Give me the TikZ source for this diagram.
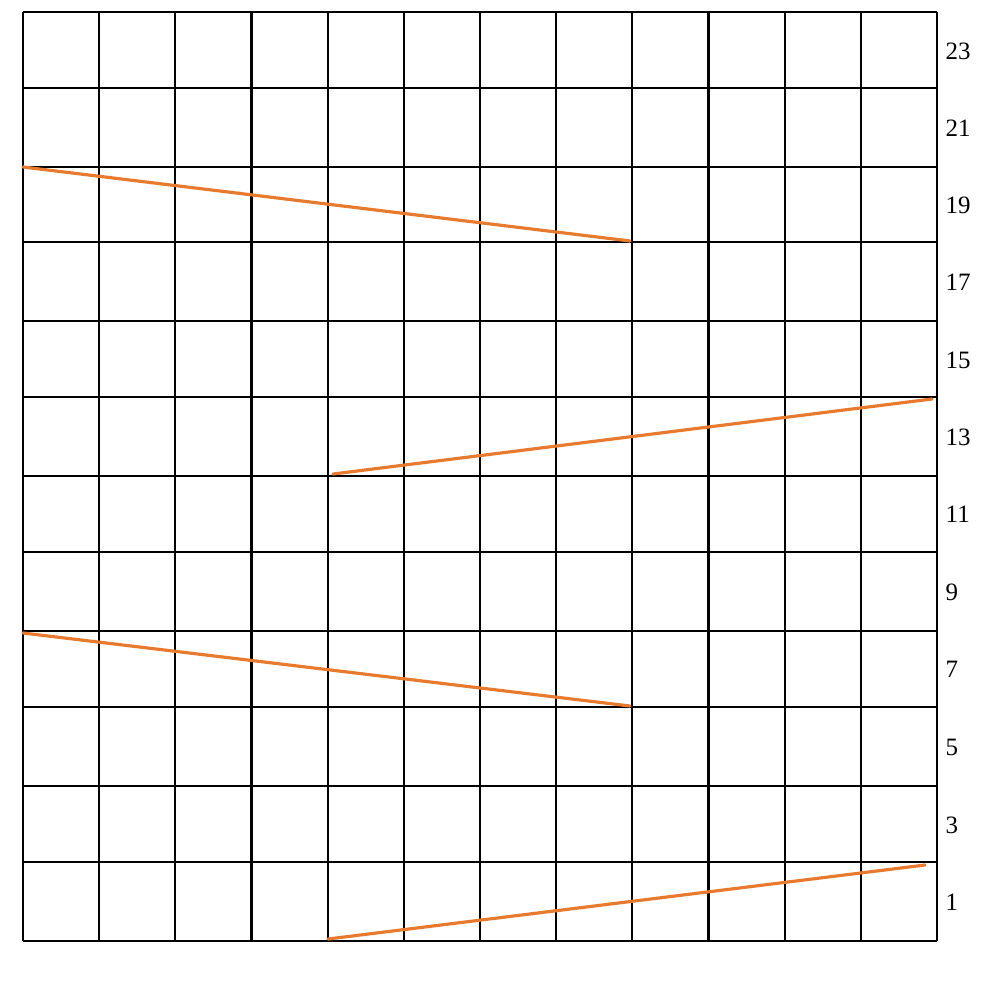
\documentclass[tikz,border=0pt]{standalone}
\usepackage{fontspec}
\setmainfont{Liberation Serif}
\definecolor{yarn}{RGB}{232,122,46}
\begin{document}
\begin{tikzpicture}[x=0.01cm,y=-0.01cm,
  gridline/.style={black,line width=0.6pt},
  path/.style={yarn,line width=0.9pt,line cap=round},
  rowlabel/.style={anchor=west,inner sep=0pt,font=\fontsize{7.1pt}{8pt}\selectfont}]
\useasboundingbox (0,0) rectangle (1000,1000);
% vertical lines
\foreach \k in {0,...,12}{
  \draw[gridline] ({23+\k*76.1667},12) -- ({23+\k*76.1667},941);
}
% horizontal lines
\foreach \yy in {12,88,167,242,321,397,476,552,631,707,786,862,941}{
  \draw[gridline] (23,\yy) -- (937,\yy);
}
% labels
\foreach \n/\yy in {23/51,21/128,19/205,17/282,15/360,13/437,11/514,9/592,7/669,5/747,3/825,1/902}{
  \node[rowlabel] (l\n) at (945,\yy) {\n};
}
% orange paths
\coordinate (a1) at (328,939); \coordinate (a2) at (925,865);
\coordinate (b1) at (23,633);  \coordinate (b2) at (630,706);
\coordinate (c1) at (333,474); \coordinate (c2) at (932,399);
\coordinate (d1) at (23,167);  \coordinate (d2) at (630,241);
\draw[path] (a1) -- (a2);
\draw[path] (b1) -- (b2);
\draw[path] (c1) -- (c2);
\draw[path] (d1) -- (d2);
\end{tikzpicture}
\end{document}
